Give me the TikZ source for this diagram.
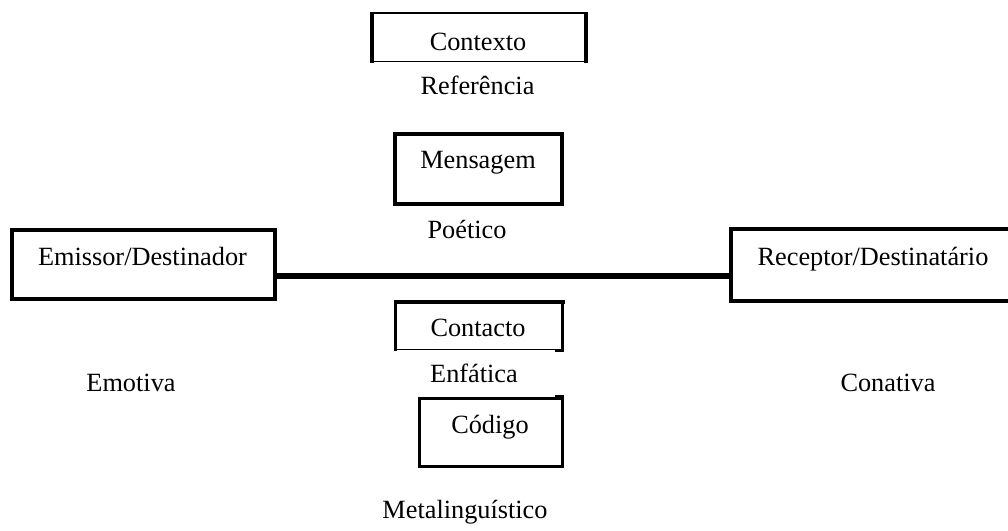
\documentclass[tikz,border=0pt]{standalone}
\usepackage{fontspec}
\setmainfont{Liberation Serif}
\usetikzlibrary{calc}
\newcommand\lblfont{\fontsize{26.3pt}{30pt}\selectfont}
\tikzset{
  lbl/.style={font=\lblfont, inner sep=0pt, anchor=base},
  frame/.style={inner sep=0pt, outer sep=0pt, line join=miter},
}
\begin{document}
\begin{tikzpicture}[x=1pt, y=-1pt, line cap=rect]
\useasboundingbox (0,0) rectangle (1008,530);

% frames of the six elements
\node[frame, minimum width=214, minimum height=48] (ctx) at (479,37) {};
\node[frame, draw, line width=4, minimum width=167, minimum height=70] (msg) at (478.5,169) {};
\node[frame, draw, line width=3.5, minimum width=263, minimum height=69] (emi) at (143.5,264.5) {};
\node[frame, draw, line width=4, minimum width=284, minimum height=72] (rec) at (873,265) {};
\node[frame, minimum width=167, minimum height=47.5] (cnt) at (479,325.75) {};
\node[frame, minimum width=143.5, minimum height=68] (cod) at (490.75,432.5) {};

% Contexto: heavy sides, light top, hairline bottom
\draw[line width=2.5] (ctx.north west) -- (ctx.north east);
\draw[line width=1, line cap=butt] (ctx.south west) -- (ctx.south east);
\draw[line width=4, line cap=butt] ($(ctx.north west)+(0,-1)$) -- ($(ctx.south west)+(0,1.5)$);
\draw[line width=4, line cap=butt] ($(ctx.north east)+(0,-1)$) -- ($(ctx.south east)+(0,1.5)$);

% Contacto: heavy top and sides, hairline bottom, heavy lower right corner
\draw[line width=4] (cnt.north west) -- (cnt.north east);
\draw[line width=3.5, line cap=butt] ($(cnt.north west)+(0,-2)$) -- ($(cnt.south west)+(0,1)$);
\draw[line width=3.5, line cap=butt] ($(cnt.north east)+(0,-2)$) -- ($(cnt.south east)+(0,2.5)$);
\draw[line width=1, line cap=butt] (cnt.south west) -- (cnt.south east);
\draw[line width=3, line cap=butt] ($(cnt.south east)+(-7.5,1)$) -- ($(cnt.south east)+(1.5,1)$);

% Codigo: frame with a raised upper right corner
\draw[line width=3] (cod.north west) rectangle (cod.south east);
\draw[line width=3.5, line cap=butt] ($(cod.north east)+(0,-3.5)$) -- ($(cod.south east)+(0,1.5)$);
\draw[line width=3, line cap=butt] ($(cod.north east)+(-7.5,-2)$) -- ($(cod.north east)+(1.5,-2)$);

% channel between sender and receiver
\coordinate (chan) at (0,276);
\draw[line width=5.5, line cap=butt] (emi.east |- chan) -- (rec.west |- chan);

% texts
\node[lbl] (tctx) at (478,50) {Contexto};
\node[lbl] (tref) at (477.5,94.5) {Referência};
\node[lbl] (tmsg) at (478,168) {Mensagem};
\node[lbl] (tpoe) at (467,238) {Poético};
\node[lbl] (temi) at (142.5,265) {Emissor/Destinador};
\node[lbl] (trec) at (873,265) {Receptor/Destinatário};
\node[lbl] (tcnt) at (478,336.5) {Contacto};
\node[lbl] (tenf) at (474,382.5) {Enfática};
\node[lbl] (tcod) at (490,433) {Código};
\node[lbl] (tmet) at (465,518) {Metalinguístico};
\node[lbl] (temo) at (131,391) {Emotiva};
\node[lbl] (tcon) at (888,391) {Conativa};
\end{tikzpicture}
\end{document}
